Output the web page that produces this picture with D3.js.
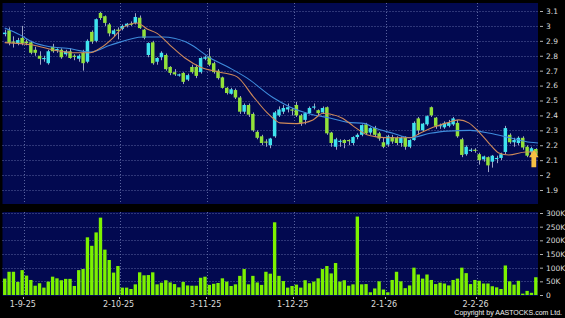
<!DOCTYPE html>
<html>
<head>
<meta charset="utf-8">
<script src="https://cdn.jsdelivr.net/npm/d3@7"></script>
<style>
body{margin:0;background:#000;}
text{font-family:"DejaVu Sans",sans-serif;}
</style>
</head>
<body>
<div id="main"></div>
<script>
// daily candles, 123 trading days (late Aug 25 -> 24 Feb 26)
var openP  = [2.945,2.97,2.895,2.885,2.92,2.895,2.89,2.84,2.80,2.78,2.75,2.86,2.835,2.84,2.81,2.83,2.80,2.78,2.82,2.76,
              2.96,2.90,3.087,3.065,3.01,2.945,2.975,2.98,3.00,3.015,3.02,3.055,2.975,2.805,2.89,2.76,2.79,2.805,2.725,2.69,
              2.67,2.685,2.64,2.725,2.725,2.69,2.78,2.795,2.75,2.70,2.655,2.585,2.545,2.57,2.52,2.425,2.47,2.41,2.29,2.26,
              2.225,2.20,2.26,2.40,2.425,2.44,2.44,2.47,2.40,2.37,2.415,2.455,2.435,2.42,2.455,2.285,2.19,2.225,2.235,2.235,
              2.215,2.255,2.27,2.34,2.285,2.315,2.28,2.22,2.205,2.255,2.25,2.215,2.25,2.19,2.235,2.38,2.30,2.34,2.455,2.385,
              2.33,2.32,2.33,2.34,2.35,2.24,2.14,2.165,2.17,2.14,2.105,2.12,2.09,2.11,2.115,2.155,2.27,2.22,2.215,2.25,
              2.19,2.155,2.175];
var highP  = [2.975,2.99,2.93,2.92,3.00,2.91,2.90,2.86,2.83,2.80,2.84,2.88,2.85,2.85,2.84,2.85,2.81,2.81,2.84,2.91,
              2.97,3.05,3.095,3.07,3.02,2.98,2.99,3.01,3.02,3.03,3.085,3.07,2.98,2.89,2.90,2.79,2.83,2.815,2.73,2.71,
              2.68,2.69,2.68,2.74,2.74,2.79,2.80,2.85,2.76,2.71,2.66,2.59,2.585,2.58,2.53,2.48,2.48,2.42,2.30,2.27,
              2.24,2.25,2.43,2.46,2.47,2.48,2.45,2.49,2.41,2.42,2.46,2.48,2.44,2.46,2.46,2.29,2.25,2.24,2.24,2.24,
              2.26,2.28,2.34,2.35,2.32,2.33,2.29,2.25,2.27,2.27,2.26,2.26,2.26,2.24,2.36,2.39,2.35,2.40,2.46,2.39,
              2.345,2.36,2.37,2.39,2.37,2.25,2.20,2.18,2.18,2.15,2.13,2.125,2.135,2.13,2.15,2.33,2.28,2.25,2.26,2.26,
              2.20,2.19,2.18];
var lowP   = [2.93,2.87,2.855,2.87,2.87,2.87,2.81,2.80,2.74,2.76,2.74,2.82,2.82,2.78,2.80,2.78,2.77,2.76,2.70,2.75,
              2.88,2.89,3.04,3.00,2.93,2.93,2.91,2.97,2.99,3.00,3.01,2.98,2.91,2.79,2.74,2.74,2.77,2.70,2.67,2.665,
              2.66,2.61,2.63,2.68,2.65,2.68,2.77,2.73,2.68,2.64,2.58,2.54,2.54,2.51,2.41,2.41,2.39,2.29,2.24,2.20,
              2.19,2.18,2.25,2.39,2.41,2.42,2.40,2.39,2.33,2.34,2.41,2.44,2.40,2.41,2.27,2.19,2.17,2.19,2.18,2.20,
              2.20,2.24,2.26,2.27,2.27,2.26,2.23,2.18,2.19,2.21,2.20,2.19,2.17,2.18,2.23,2.27,2.29,2.33,2.39,2.31,
              2.31,2.31,2.32,2.33,2.25,2.12,2.13,2.155,2.15,2.07,2.09,2.02,2.05,2.08,2.10,2.14,2.21,2.19,2.20,2.17,
              2.12,2.14,2.13];
var closeP = [2.955,2.885,2.89,2.905,2.885,2.885,2.82,2.82,2.78,2.785,2.83,2.83,2.845,2.79,2.83,2.785,2.795,2.80,2.75,2.90,
              2.895,3.045,3.053,3.02,2.95,2.97,2.97,3.00,3.015,3.01,3.06,2.985,2.92,2.885,2.75,2.785,2.82,2.71,2.685,2.675,
              2.675,2.625,2.67,2.69,2.665,2.785,2.79,2.74,2.69,2.65,2.585,2.55,2.575,2.52,2.425,2.47,2.405,2.30,2.25,2.215,
              2.22,2.245,2.42,2.44,2.45,2.455,2.435,2.40,2.35,2.415,2.45,2.46,2.415,2.45,2.28,2.215,2.24,2.23,2.215,2.23,
              2.255,2.27,2.335,2.28,2.315,2.27,2.245,2.19,2.26,2.225,2.215,2.25,2.19,2.235,2.35,2.30,2.345,2.395,2.40,2.33,
              2.335,2.35,2.35,2.38,2.26,2.135,2.19,2.17,2.165,2.10,2.125,2.065,2.13,2.115,2.14,2.315,2.22,2.235,2.25,2.185,
              2.13,2.18,2.135];
// volume in thousands of shares
var volume = [60,85,85,48,91,71,55,34,43,27,49,67,61,54,59,59,33,91,95,211,
              180,229,283,166,128,82,106,27,27,22,39,83,72,73,83,39,45,54,46,40,
              28,48,35,34,34,63,67,37,41,44,61,49,33,39,70,95,39,70,46,37,
              85,78,266,70,51,27,33,38,27,54,43,49,61,95,106,79,117,49,54,34,
              39,287,39,40,10,24,50,20,10,55,85,50,25,35,100,75,60,75,55,40,
              45,42,35,55,60,100,80,40,55,52,42,42,32,28,22,108,50,38,52,5,
              15,8,65];

// moving averages: [bar index, price]
var maFast = [[0,2.888],[6.5,2.872],[11.1,2.839],[16.6,2.82],[19.6,2.82],[21.9,2.85],[24.9,2.92],[27.2,2.99],[30.4,3.02],
              [32.7,2.98],[35,2.95],[38,2.87],[41.4,2.785],[44.9,2.725],[49.4,2.69],[53.3,2.66],[57,2.53],[60.2,2.42],
              [62.1,2.37],[63.2,2.35],[67.1,2.345],[70.8,2.37],[73.1,2.415],[74.7,2.41],[77.7,2.38],[80,2.33],[83.2,2.27],
              [85.6,2.256],[88.5,2.25],[93.1,2.25],[95.4,2.28],[98.4,2.32],[101.6,2.35],[104.3,2.37],[106.6,2.35],
              [108.9,2.29],[111.2,2.215],[113.5,2.148],[115.8,2.135],[119.7,2.155],[122.5,2.155]];
var maSlow = [[0,2.986],[3.5,2.94],[6.5,2.89],[10.4,2.86],[14.3,2.85],[19.6,2.825],[24.2,2.87],[31.8,2.926],[36.4,2.926],
              [41.4,2.895],[43,2.87],[47.2,2.785],[51.7,2.718],[55.7,2.65],[61.6,2.52],[65.5,2.457],[70.1,2.41],[74.7,2.383],
              [78.6,2.355],[82.8,2.345],[84.6,2.32],[89.2,2.28],[93.1,2.25],[97.7,2.28],[101.6,2.295],[106.9,2.30],
              [111.5,2.28],[116.1,2.25],[120.7,2.22],[122.5,2.215]];

var tickIdx = [5,27,47,67,88,109];
var tickLabels = ["1-9-25","2-10-25","3-11-25","1-12-25","2-1-26","2-2-26"];
var priceTicks = [1.9,2,2.1,2.2,2.3,2.4,2.5,2.6,2.7,2.8,2.9,3,3.1];
var volTicks = [0,50,100,150,200,250,300];

var width = 565, height = 318;
var panelLeft = 2.5, panelRight = 538;
var pricePanel = {top: 3, bottom: 204};
var volPanel = {top: 212, bottom: 296};
var navy = "#020950", gridCol = "#5a64a0", textCol = "#dcdcdc";
var upCol = "#3fe3ef", downCol = "#92e23a", volCol = "#7cf200";

var translate = function(x,y){ return "translate(" + x + "," + y + ")"; };

var svg = d3.select("#main").append("svg")
    .attr("width", width)
    .attr("height", height)
    .style("display","block");

svg.append("rect").attr("width", width).attr("height", height).attr("fill", "#000");

var x = d3.scaleBand()
    .domain(d3.range(closeP.length))
    .range([panelLeft + 0.05, panelRight])
    .paddingInner(0);

var xc = function(i){ return x(0) + x.bandwidth()/2 + i*x.step(); }; // works for fractional index too

var y = d3.scaleLinear().domain([1.9, 3.1]).range([190, 11]);
var yv = d3.scaleLinear().domain([0, 300]).range([295, 213]);

// panels
[pricePanel, volPanel].forEach(function(p){
  svg.append("rect")
    .attr("x", panelLeft).attr("y", p.top)
    .attr("width", panelRight - panelLeft).attr("height", p.bottom - p.top)
    .attr("fill", navy);
});

// horizontal grid
svg.append("g").selectAll("line").data(priceTicks).enter().append("line")
    .attr("x1", panelLeft).attr("x2", panelRight)
    .attr("y1", function(d){ return Math.round(y(d)) + 0.5; })
    .attr("y2", function(d){ return Math.round(y(d)) + 0.5; })
    .attr("stroke", gridCol).attr("stroke-dasharray", "1,2");

svg.append("g").selectAll("line").data(volTicks.slice(1)).enter().append("line")
    .attr("x1", panelLeft).attr("x2", panelRight)
    .attr("y1", function(d){ return Math.round(yv(d)) + 0.5; })
    .attr("y2", function(d){ return Math.round(yv(d)) + 0.5; })
    .attr("stroke", gridCol).attr("stroke-dasharray", "1,2");

// vertical grid at the date ticks
[pricePanel, volPanel].forEach(function(p){
  svg.append("g").selectAll("line").data(tickIdx).enter().append("line")
    .attr("x1", function(d){ return Math.round(x(d)) + 0.5; })
    .attr("x2", function(d){ return Math.round(x(d)) + 0.5; })
    .attr("y1", p.top).attr("y2", p.bottom)
    .attr("stroke", gridCol).attr("stroke-dasharray", "1,2");
});

// candles
var bodyW = x.bandwidth() * 0.8;
var candles = svg.append("g").selectAll("g").data(closeP).enter().append("g");

candles.append("line")
    .attr("x1", function(d,i){ return Math.round(xc(i)) + 0.5; })
    .attr("x2", function(d,i){ return Math.round(xc(i)) + 0.5; })
    .attr("y1", function(d,i){ return y(highP[i]); })
    .attr("y2", function(d,i){ return y(lowP[i]); })
    .attr("stroke", "#9ea4c4").attr("stroke-width", 1);

candles.append("rect")
    .attr("x", function(d,i){ return xc(i) - bodyW/2; })
    .attr("width", bodyW)
    .attr("y", function(d,i){ return y(Math.max(openP[i], closeP[i])); })
    .attr("height", function(d,i){ return Math.max(1.2, Math.abs(y(openP[i]) - y(closeP[i]))); })
    .attr("fill", function(d,i){ return closeP[i] >= openP[i] ? upCol : downCol; });

// moving averages
var maLine = d3.line()
    .x(function(d){ return xc(d[0]); })
    .y(function(d){ return y(d[1]); })
    .curve(d3.curveMonotoneX);

svg.append("path").datum(maSlow).attr("d", maLine)
    .attr("fill", "none").attr("stroke", "#3f8cdc").attr("stroke-width", 1.1);
svg.append("path").datum(maFast).attr("d", maLine)
    .attr("fill", "none").attr("stroke", "#cf8a5a").attr("stroke-width", 1.1);

// arrow under the last bar
var last = closeP.length - 1;
var ax = xc(last) - 2, ay = y(lowP[last]) - 6;
svg.append("path")
    .attr("d", "M" + ax + "," + ay + " l4.8,7.5 l-2.4,0 l0,10 l-4.8,0 l0,-10 l-2.4,0 Z")
    .attr("fill", "#f6c044");

// volume bars
svg.append("g").selectAll("rect").data(volume).enter().append("rect")
    .attr("x", function(d,i){ return x(i) + 0.5; })
    .attr("width", x.bandwidth() - 1)
    .attr("y", function(d){ return yv(d); })
    .attr("height", function(d){ return yv(0) - yv(d); })
    .attr("fill", volCol);

// right axes
var priceAxis = d3.axisRight(y).tickValues(priceTicks).tickSize(3).tickPadding(3)
    .tickFormat(d3.format(""));
var volAxis = d3.axisRight(yv).tickValues(volTicks).tickSize(3).tickPadding(3)
    .tickFormat(function(d){ return d === 0 ? "0" : d + "K"; });

[priceAxis, volAxis].forEach(function(a){
  var g = svg.append("g").attr("transform", translate(panelRight + 2, 0)).call(a);
  g.select(".domain").remove();
  g.selectAll(".tick line").attr("stroke", "#b0b0b0");
  g.selectAll("text").attr("fill", textCol).style("font-size", "7.5px");
});

// date labels
svg.append("g").selectAll("line").data(tickIdx).enter().append("line")
    .attr("x1", function(d){ return Math.round(x(d)) - 0.5; })
    .attr("x2", function(d){ return Math.round(x(d)) - 0.5; })
    .attr("y1", volPanel.bottom + 1).attr("y2", volPanel.bottom + 3)
    .attr("stroke", "#b0b0b0");

svg.append("g").selectAll("text").data(tickIdx).enter().append("text")
    .attr("x", function(d){ return x(d) - 1.5; })
    .attr("y", 306.5)
    .attr("text-anchor", "middle")
    .attr("fill", textCol)
    .style("font-size", "8px")
    .text(function(d,i){ return tickLabels[i]; });

svg.append("text")
    .attr("x", 562).attr("y", 315)
    .attr("text-anchor", "end")
    .attr("fill", "#f0f0f0")
    .style("font-family", "'Liberation Sans', Arial, sans-serif")
    .style("font-size", "7px")
    .text("Copyright by AASTOCKS.com Ltd.");
</script>
</body>
</html>
